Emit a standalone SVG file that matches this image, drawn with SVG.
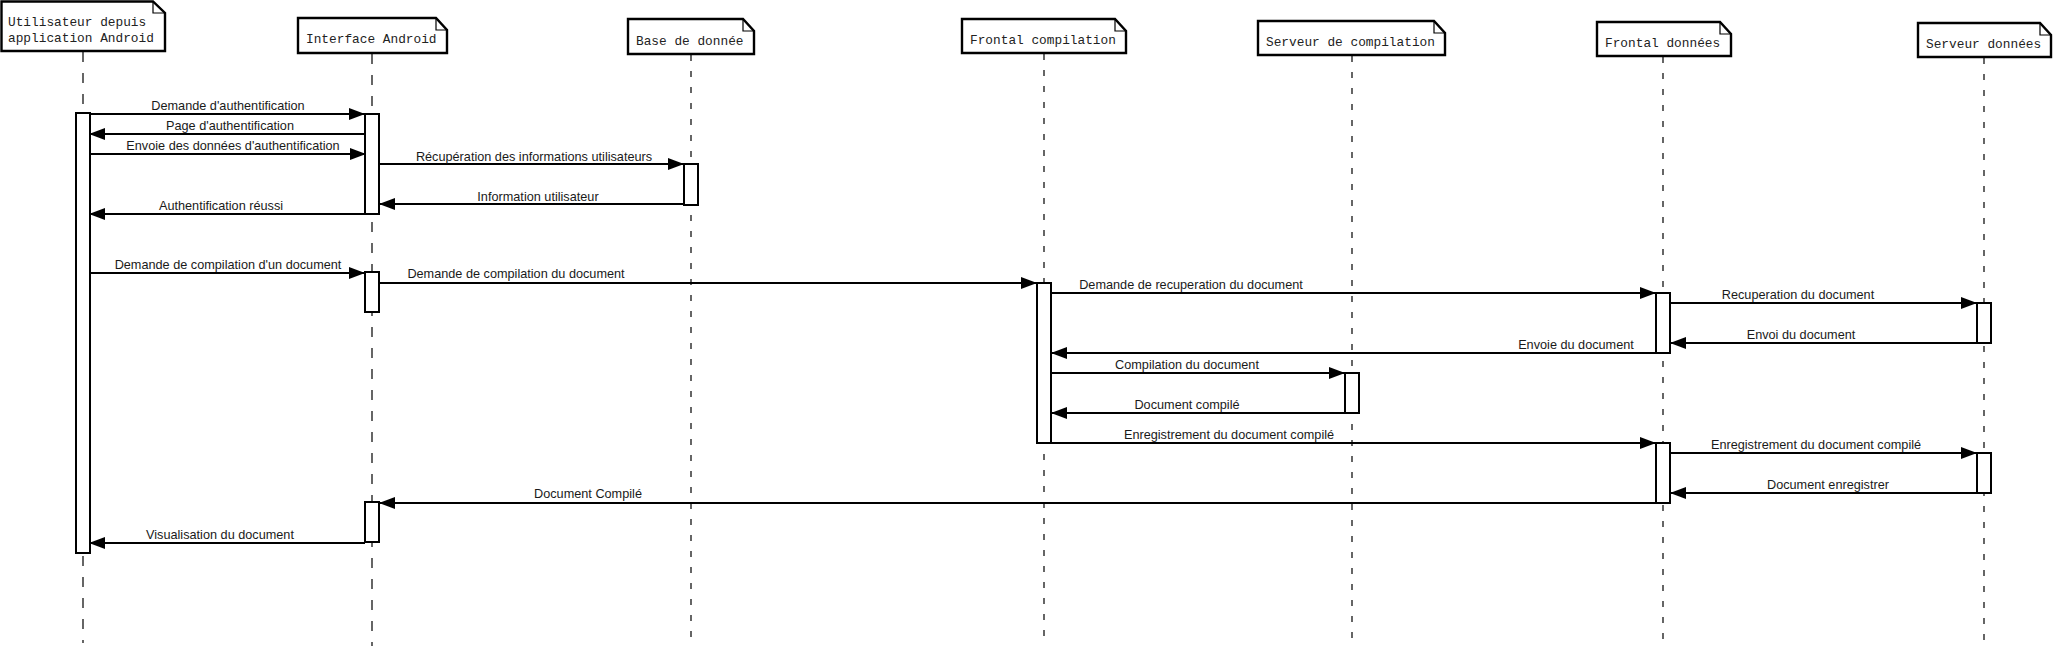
<svg xmlns="http://www.w3.org/2000/svg" width="2053" height="650" viewBox="0 0 2053 650">
<style>
.bg{fill:#fff}
.hdr{fill:#fff;stroke:#000;stroke-width:2.4;stroke-linejoin:miter}
.fold{fill:none;stroke:#000;stroke-width:1.2}
.htxt{font-family:"Liberation Mono","Courier New",monospace;font-size:12.8px;fill:#222}
.life{stroke:#000;stroke-width:1.2;fill:none}
.life1{stroke-dasharray:10 11}
.life2{stroke-dasharray:6 10}
.bar{fill:#fff;stroke:#000;stroke-width:2}
.msg{stroke:#000;stroke-width:2;fill:none;marker-end:url(#arr)}
.mtxt{font-family:"Liberation Sans",Arial,sans-serif;font-size:12.7px;fill:#1a1a1a;text-anchor:middle}
</style>
<defs>
<marker id="arr" markerUnits="userSpaceOnUse" markerWidth="17" markerHeight="13" refX="16" refY="6" orient="auto">
<path d="M0,0 L16,6 L0,12 Z" fill="#000"/>
</marker>
</defs>
<rect class="bg" x="0" y="0" width="2053" height="650"/>

<g id="lifelines">
<line class="life life1" x1="83" y1="52" x2="83" y2="643"/>
<line class="life life1" x1="372" y1="54" x2="372" y2="646"/>
<line class="life life2" x1="691" y1="55" x2="691" y2="644"/>
<line class="life life2" x1="1044" y1="54" x2="1044" y2="644"/>
<line class="life life2" x1="1352" y1="56" x2="1352" y2="638"/>
<line class="life life2" x1="1663" y1="57" x2="1663" y2="640"/>
<line class="life life2" x1="1984" y1="58" x2="1984" y2="640"/>
</g>

<g id="user">
<path class="hdr" d="M1.5,1.5 H153 L165,13 V51 H1.5 Z"/>
<path class="fold" d="M153,1.5 V13 H165"/>
<text class="htxt" x="8" y="26">Utilisateur depuis</text>
<text class="htxt" x="8" y="42">application Android</text>
<rect class="bar" x="76" y="113" width="14" height="440"/>
</g>

<g id="interface">
<path class="hdr" d="M298,18 H436 L447,30 V53 H298 Z"/>
<path class="fold" d="M436,18 V30 H447"/>
<text class="htxt" x="306" y="43">Interface Android</text>
<rect class="bar" x="365" y="114" width="14" height="100"/>
<rect class="bar" x="365" y="272" width="14" height="40"/>
<rect class="bar" x="365" y="502" width="14" height="40"/>
</g>

<g id="base">
<path class="hdr" d="M628,19 H743 L754,31 V54 H628 Z"/>
<path class="fold" d="M743,19 V31 H754"/>
<text class="htxt" x="636" y="45">Base de donnée</text>
<rect class="bar" x="684" y="164" width="14" height="41"/>
</g>

<g id="frontal-compilation">
<path class="hdr" d="M962,19 H1115 L1126,31 V53 H962 Z"/>
<path class="fold" d="M1115,19 V31 H1126"/>
<text class="htxt" x="970" y="44">Frontal compilation</text>
<rect class="bar" x="1037" y="283" width="14" height="160"/>
</g>

<g id="serveur-compilation">
<path class="hdr" d="M1258,21 H1434 L1445,33 V55 H1258 Z"/>
<path class="fold" d="M1434,21 V33 H1445"/>
<text class="htxt" x="1266" y="46">Serveur de compilation</text>
<rect class="bar" x="1345" y="373" width="14" height="40"/>
</g>

<g id="frontal-donnees">
<path class="hdr" d="M1597,22 H1720 L1731,34 V56 H1597 Z"/>
<path class="fold" d="M1720,22 V34 H1731"/>
<text class="htxt" x="1605" y="47">Frontal données</text>
<rect class="bar" x="1656" y="293" width="14" height="60"/>
<rect class="bar" x="1656" y="443" width="14" height="60"/>
</g>

<g id="serveur-donnees">
<path class="hdr" d="M1918,23 H2040 L2051,35 V57 H1918 Z"/>
<path class="fold" d="M2040,23 V35 H2051"/>
<text class="htxt" x="1926" y="48">Serveur données</text>
<rect class="bar" x="1977" y="303" width="14" height="40"/>
<rect class="bar" x="1977" y="453" width="14" height="40"/>
</g>

<g id="connectors">
<line class="msg" x1="90" y1="114" x2="365" y2="114"/>
<text class="mtxt" x="228" y="110">Demande d'authentification</text>
<line class="msg" x1="365" y1="134" x2="89" y2="134"/>
<text class="mtxt" x="230" y="130">Page d'authentification</text>
<line class="msg" x1="90" y1="154" x2="366" y2="154"/>
<text class="mtxt" x="233" y="150">Envoie des données d'authentification</text>
<line class="msg" x1="379" y1="164" x2="684" y2="164"/>
<text class="mtxt" x="534" y="161">Récupération des informations utilisateurs</text>
<line class="msg" x1="684" y1="204" x2="379" y2="204"/>
<text class="mtxt" x="538" y="201">Information utilisateur</text>
<line class="msg" x1="365" y1="214" x2="89" y2="214"/>
<text class="mtxt" x="221" y="210">Authentification réussi</text>
<line class="msg" x1="90" y1="273" x2="365" y2="273"/>
<text class="mtxt" x="228" y="269">Demande de compilation d'un document</text>
<line class="msg" x1="379" y1="283" x2="1037" y2="283"/>
<text class="mtxt" x="516" y="278">Demande de compilation du document</text>
<line class="msg" x1="1051" y1="293" x2="1656" y2="293"/>
<text class="mtxt" x="1191" y="289">Demande de recuperation du document</text>
<line class="msg" x1="1670" y1="303" x2="1977" y2="303"/>
<text class="mtxt" x="1798" y="299">Recuperation du document</text>
<line class="msg" x1="1977" y1="343" x2="1670" y2="343"/>
<text class="mtxt" x="1801" y="339">Envoi du document</text>
<line class="msg" x1="1656" y1="353" x2="1051" y2="353"/>
<text class="mtxt" x="1576" y="349">Envoie du document</text>
<line class="msg" x1="1051" y1="373" x2="1345" y2="373"/>
<text class="mtxt" x="1187" y="369">Compilation du document</text>
<line class="msg" x1="1345" y1="413" x2="1051" y2="413"/>
<text class="mtxt" x="1187" y="409">Document compilé</text>
<line class="msg" x1="1051" y1="443" x2="1656" y2="443"/>
<text class="mtxt" x="1229" y="439">Enregistrement du document compilé</text>
<line class="msg" x1="1670" y1="453" x2="1977" y2="453"/>
<text class="mtxt" x="1816" y="449">Enregistrement du document compilé</text>
<line class="msg" x1="1977" y1="493" x2="1670" y2="493"/>
<text class="mtxt" x="1828" y="489">Document enregistrer</text>
<line class="msg" x1="1656" y1="503" x2="379" y2="503"/>
<text class="mtxt" x="588" y="498">Document Compilé</text>
<line class="msg" x1="365" y1="543" x2="89" y2="543"/>
<text class="mtxt" x="220" y="539">Visualisation du document</text>
</g>
</svg>
